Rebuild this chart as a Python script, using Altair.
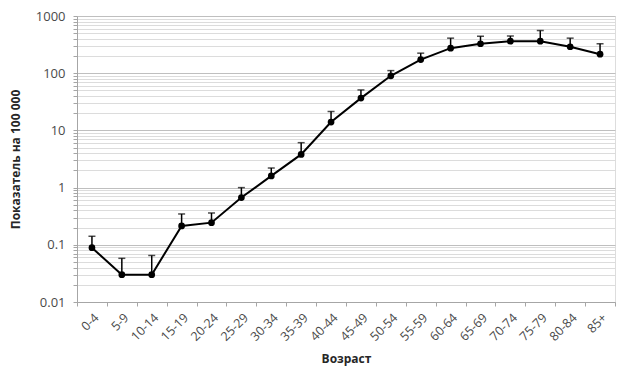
import altair as alt
import pandas as pd

ages = ["0-4", "5-9", "10-14", "15-19", "20-24", "25-29", "30-34", "35-39", "40-44",
        "45-49", "50-54", "55-59", "60-64", "65-69", "70-74", "75-79", "80-84", "85+"]
rates = [0.089, 0.030, 0.030, 0.214, 0.244, 0.67, 1.6, 3.8, 14.0,
         36.7, 90, 173, 274, 327, 363, 363, 290, 215]
uppers = [0.141, 0.058, 0.065, 0.346, 0.36, 1.0, 2.2, 6.1, 21.5,
          51, 111, 224, 410, 443, 447, 557, 410, 327]

major = [0.01, 0.1, 1, 10, 100, 1000]
grid_vals = []
for d in [0.01, 0.1, 1, 10, 100]:
    for k in range(1, 10):
        grid_vals.append(round(d * k, 4))
grid_vals.append(1000)

df = pd.DataFrame({"age": ages, "rate": rates, "upper": uppers})

FONT = "Open Sans"
LABEL = "#4a4a4a"

x = alt.X("age:N", sort=ages, title="Возраст",
          scale=alt.Scale(type="band", paddingInner=0, paddingOuter=0),
          axis=alt.Axis(labelAngle=-45, labelAlign="right", labelBaseline="top",
                        tickBand="extent", tickSize=4, tickColor="#a6a6a6",
                        domainColor="#a6a6a6", labelColor=LABEL, labelFontSize=12.5,
                        labelFont=FONT, labelPadding=5, titleFont=FONT, titleFontSize=12,
                        titleFontWeight="bold", titleColor="#262626", titlePadding=11,
                        grid=False))

y_scale = alt.Scale(type="log", domain=[0.01, 1000])
y_axis = alt.Axis(values=grid_vals, grid=True,
                  gridColor={"condition": {"test": "indexof([0.01,0.1,1,10,100,1000], datum.value) >= 0", "value": "#bfbfbf"}, "value": "#dcdcdc"},
                  gridWidth=1.2,
                  labelExpr="indexof([0.01,0.1,1,10,100,1000], datum.value) >= 0 ? format(datum.value, '~g') : ''",
                  tickSize=4, tickColor="#a6a6a6", domainColor="#a6a6a6",
                  labelColor=LABEL, labelFontSize=13, labelFont=FONT, labelPadding=8,
                  titleFont=FONT, titleFontSize=12, titleFontWeight="bold", titleColor="#262626",
                  titlePadding=13)

base = alt.Chart(df)

line = base.mark_line(color="black", strokeWidth=2).encode(
    x=x, y=alt.Y("rate:Q", scale=y_scale, axis=y_axis, title="Показатель на 100 000"))
pts = base.mark_point(filled=True, color="black", size=45, opacity=1).encode(
    x=alt.X("age:N", sort=ages), y=alt.Y("rate:Q"))
err = base.mark_rule(color="black", strokeWidth=1.5).encode(
    x=alt.X("age:N", sort=ages), y=alt.Y("rate:Q"), y2="upper:Q")
cap = base.mark_tick(color="black", thickness=1.5, size=7).encode(
    x=alt.X("age:N", sort=ages), y=alt.Y("upper:Q"))

chart = alt.layer(line, err, cap, pts).properties(
    width=538, height=286,
    autosize=alt.AutoSizeParams(type="none"),
    padding={"left": 69, "top": 8, "right": 3, "bottom": 70},
).configure_view(stroke=None).configure(background="white")

chart.save("out.html", embed_options={"renderer": "svg", "actions": False})
